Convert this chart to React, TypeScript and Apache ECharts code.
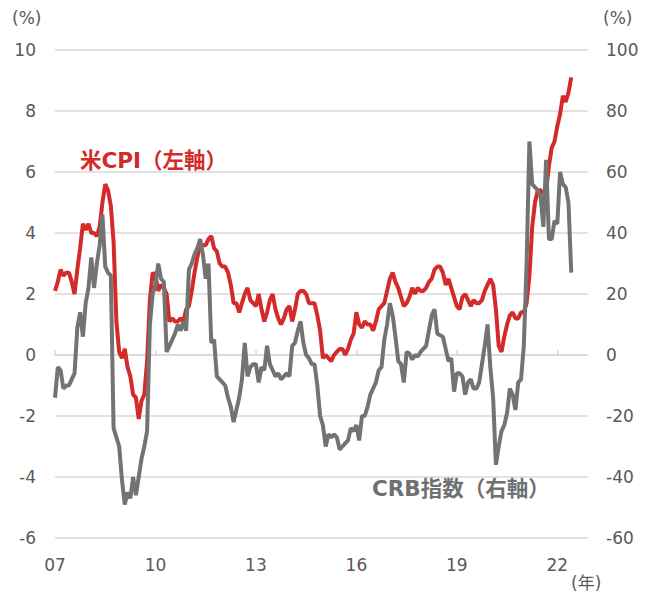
import React, { useEffect, useRef } from "react";
import * as echarts from "echarts";

// Monthly categories Jan 2007 – Dec 2022
const months: string[] = [];
for (let y = 2007; y <= 2022; y++) {
  for (let m = 1; m <= 12; m++) months.push(`${y}-${m < 10 ? "0" + m : m}`);
}

// US CPI, % y/y (left axis), Jan 2007 – Jun 2022
const cpi2007 = [2.1, 2.4, 2.8, 2.6, 2.7, 2.7, 2.4, 2.0, 2.8, 3.5, 4.3, 4.1];
const cpi2008 = [4.3, 4.0, 4.0, 3.9, 4.2, 5.0, 5.6, 5.4, 4.9, 3.7, 1.1, 0.1];
const cpi2009 = [-0.1, 0.2, -0.4, -0.7, -1.3, -1.4, -2.1, -1.5, -1.3, -0.2, 1.8, 2.7];
const cpi2010 = [2.6, 2.1, 2.3, 2.2, 2.0, 1.1, 1.2, 1.1, 1.1, 1.2, 1.1, 1.5];
const cpi2011 = [1.6, 2.1, 2.7, 3.2, 3.6, 3.6, 3.6, 3.8, 3.9, 3.5, 3.4, 3.0];
const cpi2012 = [2.9, 2.9, 2.7, 2.3, 1.7, 1.7, 1.4, 1.7, 2.0, 2.2, 1.8, 1.7];
const cpi2013 = [1.6, 2.0, 1.5, 1.1, 1.4, 1.8, 2.0, 1.5, 1.2, 1.0, 1.2, 1.5];
const cpi2014 = [1.6, 1.1, 1.5, 2.0, 2.1, 2.1, 2.0, 1.7, 1.7, 1.7, 1.3, 0.8];
const cpi2015 = [-0.1, 0.0, -0.1, -0.2, 0.0, 0.1, 0.2, 0.2, 0.0, 0.2, 0.5, 0.7];
const cpi2016 = [1.4, 1.0, 0.9, 1.1, 1.0, 1.0, 0.8, 1.1, 1.5, 1.6, 1.7, 2.1];
const cpi2017 = [2.5, 2.7, 2.4, 2.2, 1.9, 1.6, 1.7, 1.9, 2.2, 2.0, 2.2, 2.1];
const cpi2018 = [2.1, 2.2, 2.4, 2.5, 2.8, 2.9, 2.9, 2.7, 2.3, 2.5, 2.2, 1.9];
const cpi2019 = [1.6, 1.5, 1.9, 2.0, 1.8, 1.6, 1.8, 1.7, 1.7, 1.8, 2.1, 2.3];
const cpi2020 = [2.5, 2.3, 1.5, 0.3, 0.1, 0.6, 1.0, 1.3, 1.4, 1.2, 1.2, 1.4];
const cpi2021 = [1.4, 1.7, 2.6, 4.2, 5.0, 5.4, 5.4, 5.3, 5.4, 6.2, 6.8, 7.0];
const cpi2022 = [7.5, 7.9, 8.5, 8.3, 8.6, 9.1];

// CRB index, % y/y (right axis), Jan 2007 – Jun 2022
const crb2007 = [-14, -4, -5, -11, -10, -10, -8, -6, 9, 14, 6, 17];
const crb2008 = [22, 32, 22, 30, 36, 46, 29, 27, 26, -24, -27, -30];
const crb2009 = [-41, -49, -45, -47, -40, -46, -40, -34, -30, -25, 10, 20];
const crb2010 = [23, 30, 25, 24, 1, 3, 5, 7, 10, 8, 11, 8];
const crb2011 = [28, 30, 33, 35, 38, 33, 25, 30, 4, 5, -7, -8];
const crb2012 = [-9, -10, -14, -17, -22, -18, -14, -8, 4, -7, -4, -3];
const crb2013 = [-3, -9, -4, -5, 3, -3, -5, -7, -6, -8, -7, -6];
const crb2014 = [-7, 3, 4, 8, 11, 4, 0, -1, -3, -3, -10, -20];
const crb2015 = [-23, -30, -26, -27, -26, -27, -31, -30, -29, -28, -24, -25];
const crb2016 = [-23, -28, -20, -20, -17, -13, -11, -9, -5, -4, 5, 10];
const crb2017 = [17, 13, 6, -2, -3, -9, 1, 0.5, -1.5, 0, -0.5, 1];
const crb2018 = [2, 3, 8, 13, 15, 7, 6.5, 6, 2, -2, -1, -12];
const crb2019 = [-6, -6, -7, -13, -9, -8, -11, -11, -9, -3, 3, 10];
const crb2020 = [-4, -14, -36, -30, -25, -23, -19, -11, -13, -18, -9, -8];
const crb2021 = [3, 30, 70, 56, 55, 54, 52, 42, 64, 38, 38, 44];
const crb2022 = [43, 60, 56, 55, 50, 27];

const cpi = [
  ...cpi2007, ...cpi2008, ...cpi2009, ...cpi2010, ...cpi2011, ...cpi2012, ...cpi2013, ...cpi2014,
  ...cpi2015, ...cpi2016, ...cpi2017, ...cpi2018, ...cpi2019, ...cpi2020, ...cpi2021, ...cpi2022,
];
const crb = [
  ...crb2007, ...crb2008, ...crb2009, ...crb2010, ...crb2011, ...crb2012, ...crb2013, ...crb2014,
  ...crb2015, ...crb2016, ...crb2017, ...crb2018, ...crb2019, ...crb2020, ...crb2021, ...crb2022,
];

const FONT = "'DejaVu Sans', 'Noto Sans CJK JP', sans-serif";
const RED = "#d42a2a";
const GRAY = "#737373";
const GRID = "#d9d9d9";
const LABEL = "#595959";

export default function App() {
  const ref = useRef<HTMLDivElement>(null);
  useEffect(() => {
    if (!ref.current) return;
    const chart = echarts.init(ref.current, undefined, { renderer: "svg" });
    const showYear = (idx: number) => idx % 36 === 0;
    chart.setOption({
      animation: false,
      textStyle: { fontFamily: FONT },
      grid: { left: 55, right: 66, top: 50, bottom: 59, containLabel: false },
      xAxis: [
        {
          type: "category",
          data: months,
          boundaryGap: false,
          position: "bottom",
          axisLine: { onZero: true, onZeroAxisIndex: 0, lineStyle: { color: GRID, width: 1.5 } },
          axisTick: { show: true, inside: true, length: 5, interval: showYear, lineStyle: { color: GRID, width: 1.5 } },
          axisLabel: { show: false },
          splitLine: { show: false },
        },
        {
          type: "category",
          data: months,
          boundaryGap: false,
          position: "bottom",
          axisLine: { show: false, onZero: false },
          axisTick: { show: false },
          axisLabel: {
            interval: showYear,
            formatter: (v: string) => v.slice(2, 4),
            color: LABEL,
            fontSize: 17,
            fontFamily: FONT,
            margin: 18,
          },
          splitLine: { show: false },
        },
      ],
      yAxis: [
        {
          type: "value",
          min: -6,
          max: 10,
          interval: 2,
          axisLine: { show: false },
          axisTick: { show: false },
          axisLabel: { color: LABEL, fontSize: 17, fontFamily: FONT, margin: 19 },
          splitLine: { show: true, lineStyle: { color: GRID, width: 1.5 } },
        },
        {
          type: "value",
          min: -60,
          max: 100,
          interval: 20,
          axisLine: { show: false },
          axisTick: { show: false },
          axisLabel: { color: LABEL, fontSize: 17, fontFamily: FONT, margin: 18 },
          splitLine: { show: false },
        },
      ],
      series: [
        {
          name: "米CPI",
          type: "line",
          xAxisIndex: 0,
          yAxisIndex: 0,
          data: cpi,
          showSymbol: false,
          lineStyle: { color: RED, width: 4 },
          itemStyle: { color: RED },
          z: 2,
        },
        {
          name: "CRB指数",
          type: "line",
          xAxisIndex: 0,
          yAxisIndex: 1,
          data: crb,
          showSymbol: false,
          lineStyle: { color: GRAY, width: 4 },
          itemStyle: { color: GRAY },
          z: 3,
        },
      ],
      graphic: [
        { type: "text", left: 12, top: 9, style: { text: "(%)", fill: LABEL, font: `17px ${FONT}` } },
        { type: "text", left: 603, top: 9, style: { text: "(%)", fill: LABEL, font: `17px ${FONT}` } },
        { type: "text", left: 571, top: 574, style: { text: "(年)", fill: LABEL, font: `17px ${FONT}` } },
        {
          type: "text",
          left: 80,
          top: 150,
          style: { text: "米CPI（左軸）", fill: RED, font: `bold 21.5px ${FONT}` },
        },
        {
          type: "text",
          left: 372,
          top: 478,
          style: { text: "CRB指数（右軸）", fill: "#707070", font: `bold 21.5px ${FONT}` },
        },
      ],
    });
    return () => chart.dispose();
  }, []);
  return (
    <div
      ref={ref}
      style={{ position: "fixed", left: 0, top: 0, width: 654, height: 597, background: "#fff" }}
    />
  );
}
